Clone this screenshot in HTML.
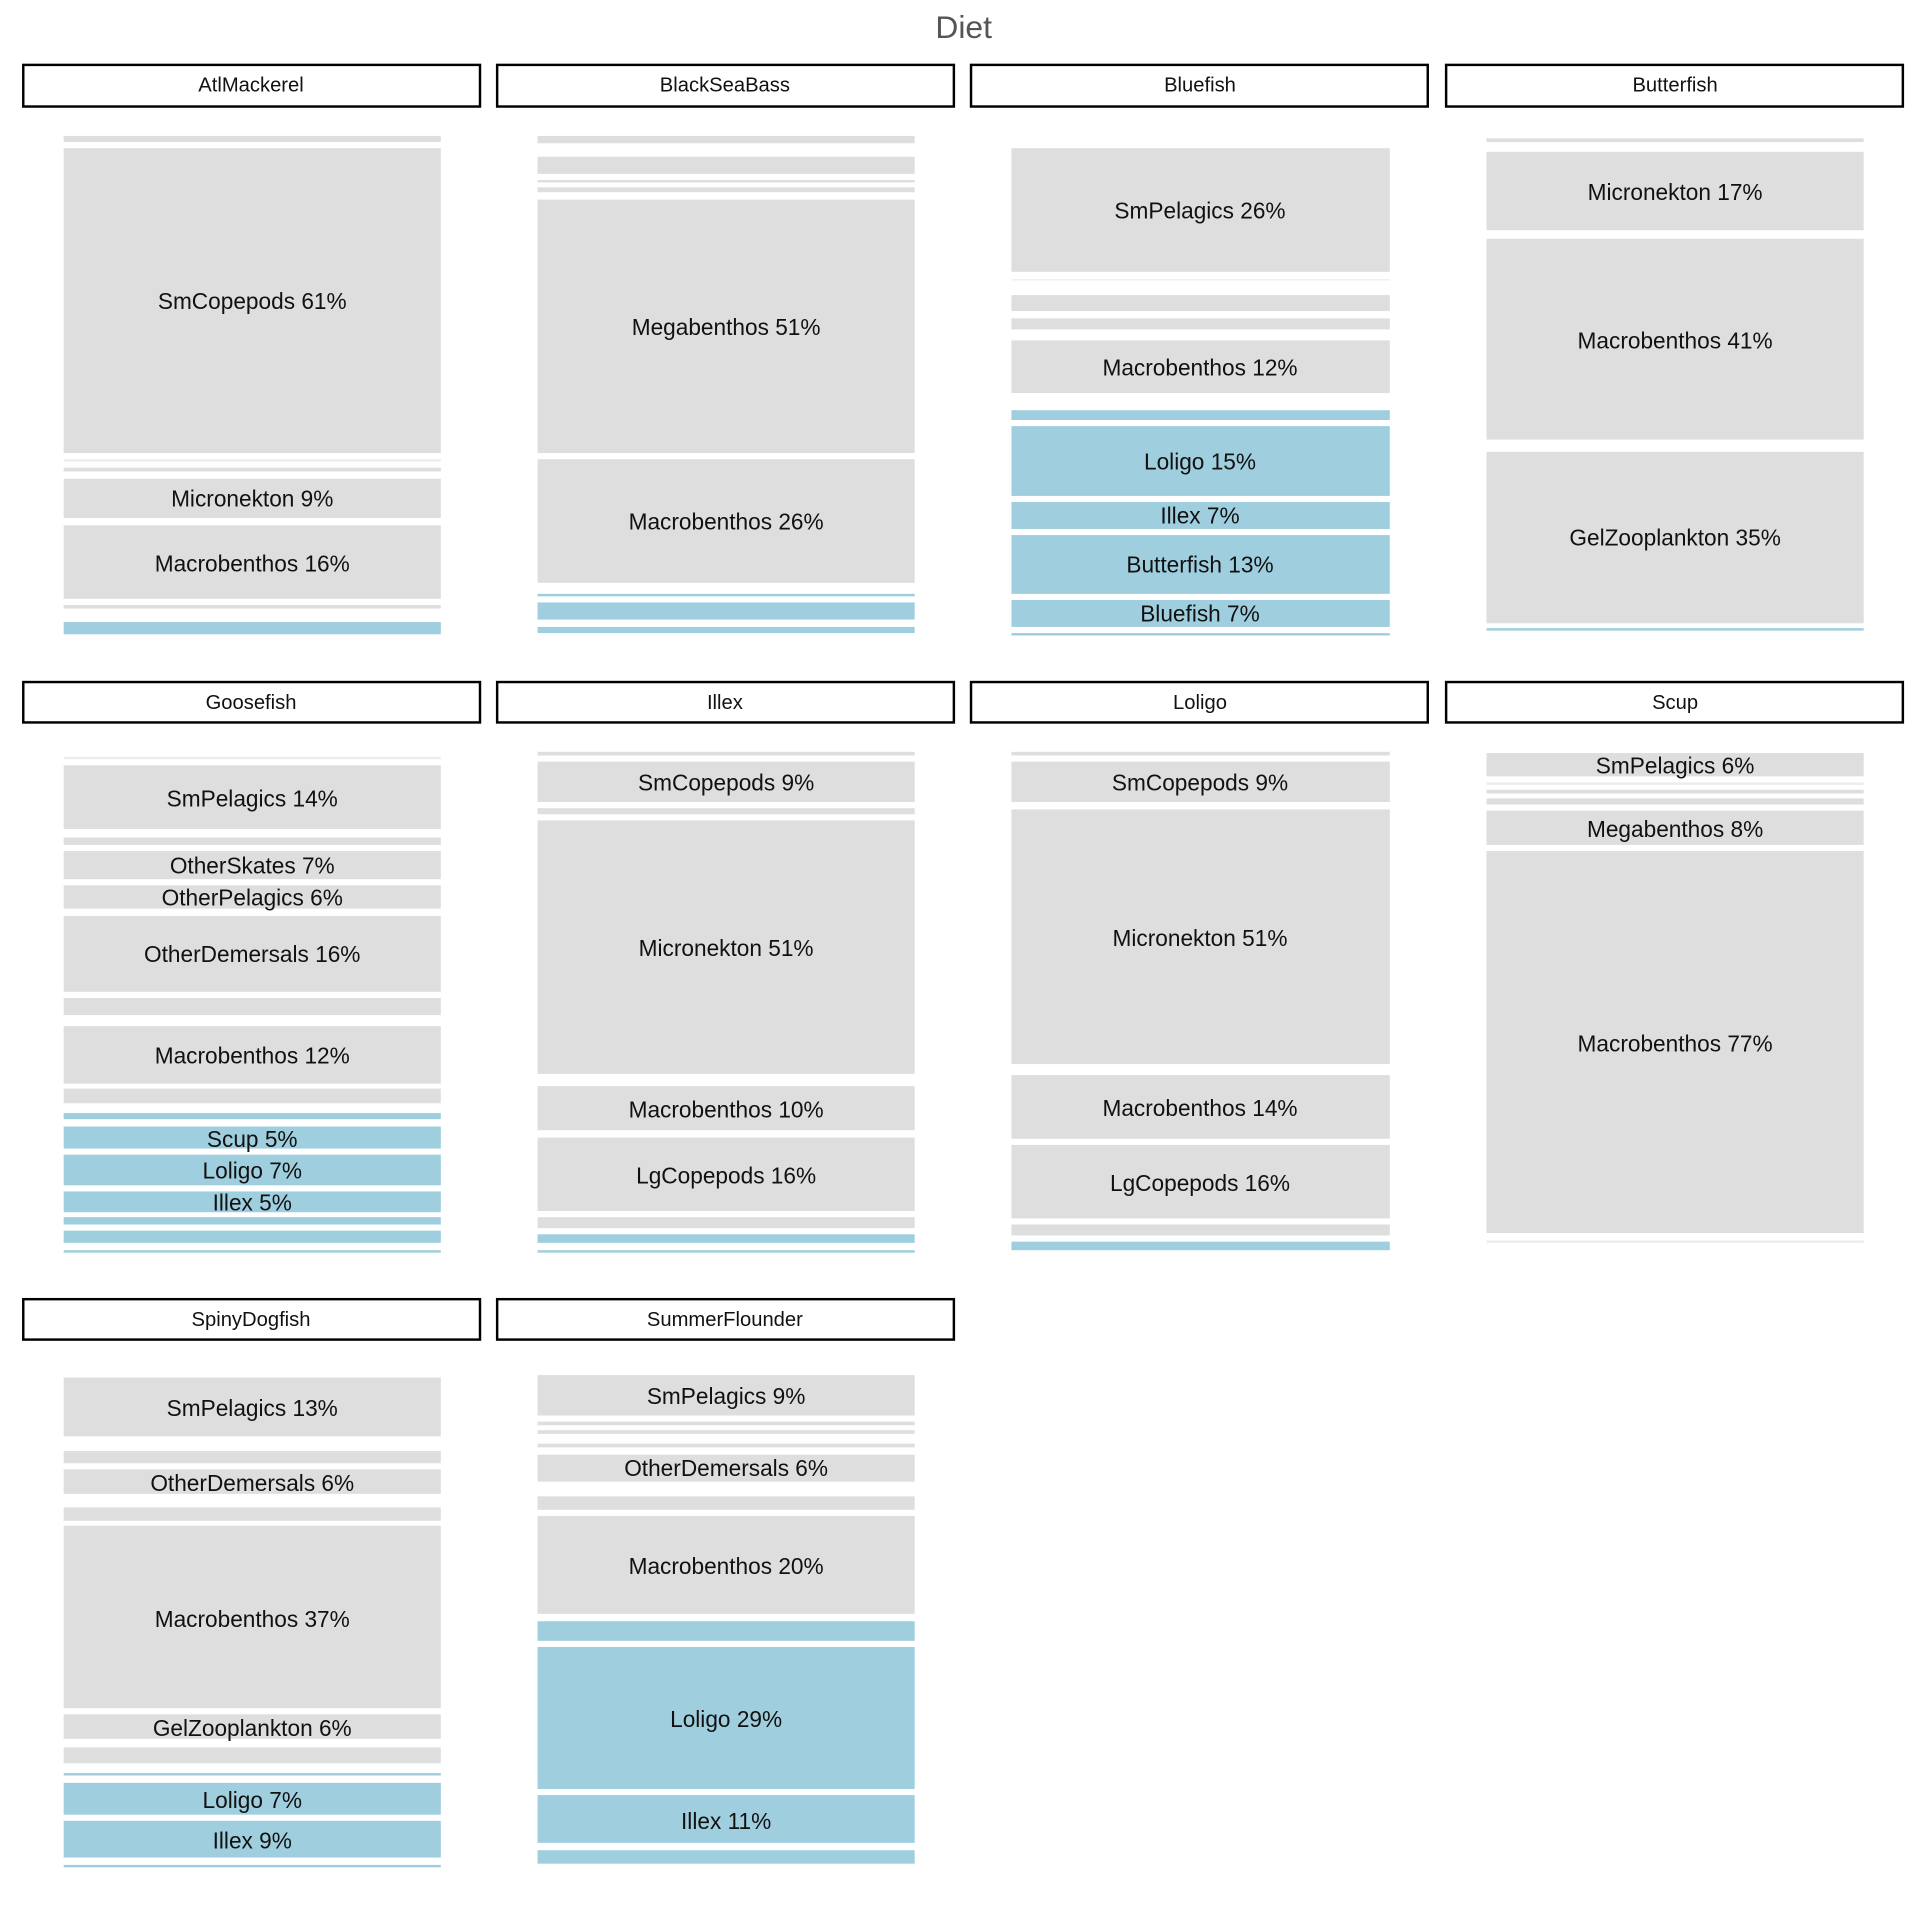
<!DOCTYPE html>
<html><head><meta charset="utf-8"><style>
html,body{margin:0;padding:0;background:#fff;}
svg{display:block;}
text{font-family:"Liberation Sans",Arial,sans-serif;}
.g{fill:#dedede}.b{fill:#9fcfdf}.t{fill:#ececec}.tb{fill:#b5dbe8}
.h{fill:#fff;stroke:#000;stroke-width:2}
.ht{font-size:16.5px;text-anchor:middle;dominant-baseline:central;fill:#111}
.l{font-size:18.5px;text-anchor:middle;dominant-baseline:central;fill:#111}
</style></head><body>
<svg width="1920" height="1920" viewBox="0 0 1568 1568" xmlns="http://www.w3.org/2000/svg">
<text x="787" y="22" font-size="26" text-anchor="middle" dominant-baseline="central" fill="#555">Diet</text>

<rect class="h" x="19" y="53" width="373" height="34"/><text class="ht" x="205" y="70">AtlMackerel</text>
<rect class="h" x="406" y="53" width="373" height="34"/><text class="ht" x="592" y="70">BlackSeaBass</text>
<rect class="h" x="793" y="53" width="373" height="34"/><text class="ht" x="980" y="70">Bluefish</text>
<rect class="h" x="1181" y="53" width="373" height="34"/><text class="ht" x="1368" y="70">Butterfish</text>
<rect class="h" x="19" y="557" width="373" height="33"/><text class="ht" x="205" y="574">Goosefish</text>
<rect class="h" x="406" y="557" width="373" height="33"/><text class="ht" x="592" y="574">Illex</text>
<rect class="h" x="793" y="557" width="373" height="33"/><text class="ht" x="980" y="574">Loligo</text>
<rect class="h" x="1181" y="557" width="373" height="33"/><text class="ht" x="1368" y="574">Scup</text>
<rect class="h" x="19" y="1061" width="373" height="33"/><text class="ht" x="205" y="1078">SpinyDogfish</text>
<rect class="h" x="406" y="1061" width="373" height="33"/><text class="ht" x="592" y="1078">SummerFlounder</text>

<g transform="translate(52,0)">
<rect class="g" x="0" y="111" width="308" height="5"/>
<rect class="g" x="0" y="121" width="308" height="249"/><text class="l" x="154" y="246">SmCopepods 61%</text>
<rect class="t" x="0" y="375" width="308" height="2"/>
<rect class="g" x="0" y="382" width="308" height="3"/>
<rect class="g" x="0" y="391" width="308" height="32"/><text class="l" x="154" y="407">Micronekton 9%</text>
<rect class="g" x="0" y="429" width="308" height="60"/><text class="l" x="154" y="460">Macrobenthos 16%</text>
<rect class="g" x="0" y="494" width="308" height="3"/>
<rect class="b" x="0" y="508" width="308" height="10"/>
</g>

<g transform="translate(439,0)">
<rect class="g" x="0" y="111" width="308" height="6"/>
<rect class="g" x="0" y="128" width="308" height="14"/>
<rect class="g" x="0" y="147" width="308" height="2"/>
<rect class="g" x="0" y="153" width="308" height="4"/>
<rect class="g" x="0" y="163" width="308" height="207"/><text class="l" x="154" y="267">Megabenthos 51%</text>
<rect class="g" x="0" y="375" width="308" height="101"/><text class="l" x="154" y="426">Macrobenthos 26%</text>
<rect class="b" x="0" y="485" width="308" height="2"/>
<rect class="b" x="0" y="492" width="308" height="14"/>
<rect class="b" x="0" y="512" width="308" height="5"/>
</g>

<g transform="translate(826,0)">
<rect class="g" x="0" y="121" width="309" height="101"/><text class="l" x="154" y="172">SmPelagics 26%</text>
<rect class="t" x="0" y="228" width="309" height="1"/>
<rect class="g" x="0" y="241" width="309" height="13"/>
<rect class="g" x="0" y="260" width="309" height="9"/>
<rect class="g" x="0" y="278" width="309" height="43"/><text class="l" x="154" y="300">Macrobenthos 12%</text>
<rect class="b" x="0" y="335" width="309" height="8"/>
<rect class="b" x="0" y="348" width="309" height="57"/><text class="l" x="154" y="377">Loligo 15%</text>
<rect class="b" x="0" y="410" width="309" height="22"/><text class="l" x="154" y="421">Illex 7%</text>
<rect class="b" x="0" y="437" width="309" height="48"/><text class="l" x="154" y="461">Butterfish 13%</text>
<rect class="b" x="0" y="490" width="309" height="22"/><text class="l" x="154" y="501">Bluefish 7%</text>
<rect class="b" x="0" y="517" width="309" height="2"/>
</g>

<g transform="translate(1214,0)">
<rect class="g" x="0" y="113" width="308" height="3"/>
<rect class="g" x="0" y="124" width="308" height="64"/><text class="l" x="154" y="157">Micronekton 17%</text>
<rect class="g" x="0" y="195" width="308" height="164"/><text class="l" x="154" y="278">Macrobenthos 41%</text>
<rect class="g" x="0" y="369" width="308" height="140"/><text class="l" x="154" y="439">GelZooplankton 35%</text>
<rect class="b" x="0" y="513" width="308" height="2"/>
</g>

<g transform="translate(52,0)">
<rect class="t" x="0" y="618" width="308" height="2"/>
<rect class="g" x="0" y="625" width="308" height="52"/><text class="l" x="154" y="652">SmPelagics 14%</text>
<rect class="g" x="0" y="684" width="308" height="6"/>
<rect class="g" x="0" y="695" width="308" height="23"/><text class="l" x="154" y="707">OtherSkates 7%</text>
<rect class="g" x="0" y="723" width="308" height="19"/><text class="l" x="154" y="733">OtherPelagics 6%</text>
<rect class="g" x="0" y="748" width="308" height="62"/><text class="l" x="154" y="779">OtherDemersals 16%</text>
<rect class="g" x="0" y="815" width="308" height="14"/>
<rect class="g" x="0" y="838" width="308" height="47"/><text class="l" x="154" y="862">Macrobenthos 12%</text>
<rect class="g" x="0" y="889" width="308" height="12"/>
<rect class="b" x="0" y="909" width="308" height="5"/>
<rect class="b" x="0" y="920" width="308" height="18"/><text class="l" x="154" y="930">Scup 5%</text>
<rect class="b" x="0" y="943" width="308" height="25"/><text class="l" x="154" y="956">Loligo 7%</text>
<rect class="b" x="0" y="973" width="308" height="17"/><text class="l" x="154" y="982">Illex 5%</text>
<rect class="b" x="0" y="994" width="308" height="6"/>
<rect class="b" x="0" y="1005" width="308" height="10"/>
<rect class="b" x="0" y="1021" width="308" height="2"/>
</g>

<g transform="translate(439,0)">
<rect class="g" x="0" y="614" width="308" height="3"/>
<rect class="g" x="0" y="622" width="308" height="33"/><text class="l" x="154" y="639">SmCopepods 9%</text>
<rect class="g" x="0" y="660" width="308" height="5"/>
<rect class="g" x="0" y="670" width="308" height="207"/><text class="l" x="154" y="774">Micronekton 51%</text>
<rect class="g" x="0" y="887" width="308" height="36"/><text class="l" x="154" y="906">Macrobenthos 10%</text>
<rect class="g" x="0" y="929" width="308" height="60"/><text class="l" x="154" y="960">LgCopepods 16%</text>
<rect class="g" x="0" y="994" width="308" height="9"/>
<rect class="b" x="0" y="1008" width="308" height="7"/>
<rect class="b" x="0" y="1021" width="308" height="2"/>
</g>

<g transform="translate(826,0)">
<rect class="g" x="0" y="614" width="309" height="3"/>
<rect class="g" x="0" y="622" width="309" height="33"/><text class="l" x="154" y="639">SmCopepods 9%</text>
<rect class="g" x="0" y="661" width="309" height="208"/><text class="l" x="154" y="766">Micronekton 51%</text>
<rect class="g" x="0" y="878" width="309" height="52"/><text class="l" x="154" y="905">Macrobenthos 14%</text>
<rect class="g" x="0" y="935" width="309" height="60"/><text class="l" x="154" y="966">LgCopepods 16%</text>
<rect class="g" x="0" y="1000" width="309" height="9"/>
<rect class="b" x="0" y="1014" width="309" height="7"/>
</g>

<g transform="translate(1214,0)">
<rect class="g" x="0" y="615" width="308" height="19"/><text class="l" x="154" y="625">SmPelagics 6%</text>
<rect class="t" x="0" y="639" width="308" height="2"/>
<rect class="g" x="0" y="645" width="308" height="3"/>
<rect class="g" x="0" y="652" width="308" height="5"/>
<rect class="g" x="0" y="662" width="308" height="28"/><text class="l" x="154" y="677">Megabenthos 8%</text>
<rect class="g" x="0" y="695" width="308" height="312"/><text class="l" x="154" y="852">Macrobenthos 77%</text>
<rect class="t" x="0" y="1013" width="308" height="2"/>
</g>

<g transform="translate(52,0)">
<rect class="g" x="0" y="1125" width="308" height="48"/><text class="l" x="154" y="1150">SmPelagics 13%</text>
<rect class="g" x="0" y="1185" width="308" height="10"/>
<rect class="g" x="0" y="1200" width="308" height="20"/><text class="l" x="154" y="1211">OtherDemersals 6%</text>
<rect class="g" x="0" y="1231" width="308" height="11"/>
<rect class="g" x="0" y="1246" width="308" height="149"/><text class="l" x="154" y="1322">Macrobenthos 37%</text>
<rect class="g" x="0" y="1400" width="308" height="20"/><text class="l" x="154" y="1411">GelZooplankton 6%</text>
<rect class="g" x="0" y="1427" width="308" height="13"/>
<rect class="b" x="0" y="1448" width="308" height="2"/>
<rect class="b" x="0" y="1456" width="308" height="26"/><text class="l" x="154" y="1470">Loligo 7%</text>
<rect class="b" x="0" y="1487" width="308" height="30"/><text class="l" x="154" y="1503">Illex 9%</text>
<rect class="b" x="0" y="1523" width="308" height="2"/>
</g>

<g transform="translate(439,0)">
<rect class="g" x="0" y="1123" width="308" height="33"/><text class="l" x="154" y="1140">SmPelagics 9%</text>
<rect class="g" x="0" y="1161" width="308" height="3"/>
<rect class="g" x="0" y="1168" width="308" height="3"/>
<rect class="g" x="0" y="1179" width="308" height="3"/>
<rect class="g" x="0" y="1188" width="308" height="22"/><text class="l" x="154" y="1199">OtherDemersals 6%</text>
<rect class="g" x="0" y="1222" width="308" height="11"/>
<rect class="g" x="0" y="1238" width="308" height="80"/><text class="l" x="154" y="1279">Macrobenthos 20%</text>
<rect class="b" x="0" y="1324" width="308" height="16"/>
<rect class="b" x="0" y="1345" width="308" height="116"/><text class="l" x="154" y="1404">Loligo 29%</text>
<rect class="b" x="0" y="1466" width="308" height="39"/><text class="l" x="154" y="1487">Illex 11%</text>
<rect class="b" x="0" y="1511" width="308" height="11"/>
</g>
</svg>
</body></html>
